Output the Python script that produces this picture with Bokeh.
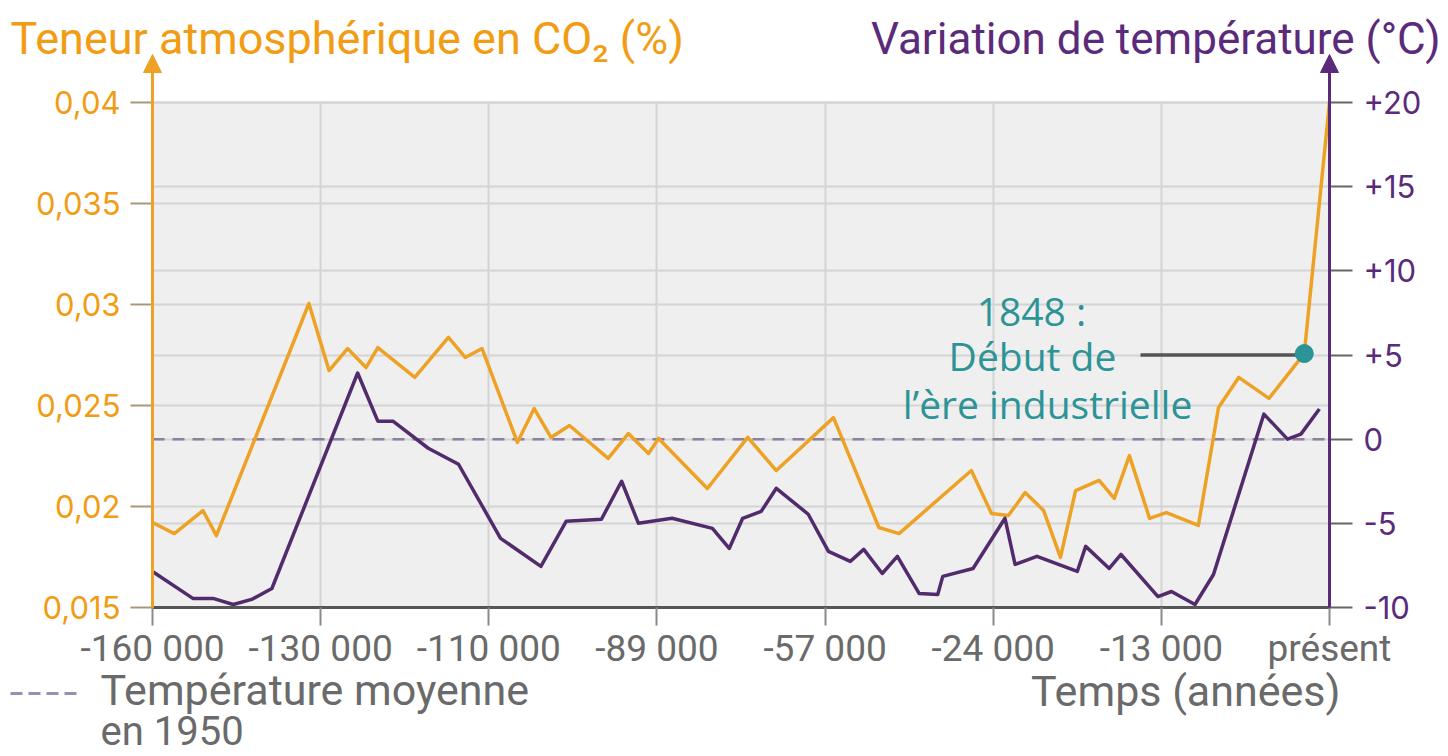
from bokeh.plotting import figure
from bokeh.models import (Range1d, LinearAxis, FixedTicker, CustomJSTickFormatter,
                          Grid, Label, Arrow, NormalHead, BoxAnnotation)
from bokeh.embed import file_html
from bokeh.resources import INLINE

# ---------------- data ----------------
x_tick_labels = ["-160 000", "-130 000", "-110 000", "-89 000",
                 "-57 000", "-24 000", "-13 000", "présent"]
x_ticks = [0, 1, 2, 3, 4, 5, 6, 7]

co2_ticks = [0.015, 0.02, 0.025, 0.03, 0.035, 0.04]
temp_ticks = [-10, -5, 0, 5, 10, 15, 20]

# CO2 (%) – x in tick-index units
co2_x = [0.0, 0.13, 0.30, 0.38, 0.93, 1.05, 1.16, 1.27, 1.34, 1.56, 1.76, 1.86, 1.96,
         2.17, 2.27, 2.37, 2.48, 2.71, 2.83, 2.95, 3.01, 3.30, 3.54, 3.71, 4.05,
         4.32, 4.44, 4.87, 4.99, 5.09, 5.19, 5.30, 5.40, 5.49, 5.63, 5.72, 5.81,
         5.93, 6.03, 6.22, 6.34, 6.46, 6.64, 6.85, 7.0]
co2_y = [0.01921, 0.01866, 0.0198, 0.01856, 0.03005, 0.02673, 0.02782, 0.02688, 0.02787,
         0.02639, 0.02837, 0.02738, 0.02782,
         0.02317, 0.02485, 0.02342, 0.02401, 0.02238, 0.02361, 0.02262, 0.02337,
         0.02089, 0.02342, 0.02178, 0.0244,
         0.01896, 0.01866, 0.02178, 0.01965, 0.01955, 0.02069, 0.0198, 0.01748,
         0.02079, 0.02129, 0.0204, 0.02252, 0.01941, 0.0197, 0.01906, 0.0249,
         0.02639, 0.02535, 0.02757, 0.04]

# Temperature variation (°C)
temp_x = [0.0, 0.24, 0.36, 0.48, 0.59, 0.71, 1.22, 1.34, 1.43, 1.64, 1.82, 2.07, 2.31,
          2.46, 2.67, 2.79, 2.89, 3.09, 3.33, 3.43, 3.51, 3.62, 3.71, 3.90, 4.02,
          4.15, 4.23, 4.34, 4.43, 4.56, 4.67, 4.70, 4.88, 5.07, 5.13, 5.26, 5.50,
          5.55, 5.69, 5.76, 5.98, 6.06, 6.20, 6.31, 6.61, 6.75, 6.83, 6.94]
temp_y = [-7.86, -9.46, -9.46, -9.82, -9.52, -8.87, 3.93, 1.07, 1.07, -0.54, -1.49,
          -5.89, -7.56, -4.88, -4.76, -2.5, -5.0, -4.70, -5.30, -6.49, -4.70, -4.29,
          -2.92, -4.46, -6.67, -7.26, -6.55, -7.98, -6.96, -9.17, -9.23, -8.15,
          -7.68, -4.70, -7.44, -6.96, -7.86, -6.37, -7.68, -6.85, -9.35, -9.05,
          -9.82, -8.04, 1.49, 0.0, 0.3, 1.79]

ref_temp_1950 = 0
industrial_x = 6.85
industrial_co2 = 0.02757
industrial_temp = 5

# ---------------- style ----------------
ORANGE_TXT = "#F29C14"
ORANGE_LINE = "#EDA225"
PURPLE_TXT = "#5B2A7A"
PURPLE_LINE = "#512B6C"
GREY_TXT = "#6A6A6A"
TEAL = "#2C9396"
GRID = "#D4D4D4"

W, H = 1448, 756
# plot area (image pixels)
FL, FR, FT, FB = 152, 1329, 102, 607

def fx(px):
    return (px - FL) / (FR - FL) * (x_ticks[-1] - x_ticks[0]) + x_ticks[0]

def fy(py):
    return co2_ticks[0] + (FB - py) / (FB - FT) * (co2_ticks[-1] - co2_ticks[0])

def ty(py):
    return temp_ticks[0] + (FB - py) / (FB - FT) * (temp_ticks[-1] - temp_ticks[0])

p = figure(width=W, height=H, x_range=Range1d(fx(0), fx(W)), y_range=Range1d(fy(H), fy(0)),
           x_axis_type=None, y_axis_type=None, output_backend="svg",
           toolbar_location=None, min_border=0,
           background_fill_color="white", border_fill_color="white",
           outline_line_color=None)
p.extra_y_ranges = {"temp": Range1d(ty(H), ty(0))}

# plot area background
p.add_layout(BoxAnnotation(left=x_ticks[0], right=x_ticks[-1], bottom=co2_ticks[0],
                           top=co2_ticks[-1], fill_color="#EFEFEF", fill_alpha=1,
                           line_color=None, level="underlay"))

# grids
p.add_layout(Grid(dimension=0, ticker=FixedTicker(ticks=x_ticks[1:-1]),
                  cross_bounds=(co2_ticks[0], co2_ticks[-1]),
                  grid_line_color=GRID, grid_line_width=2))
p.add_layout(Grid(dimension=1, ticker=FixedTicker(ticks=co2_ticks),
                  cross_bounds=(x_ticks[0], x_ticks[-1]),
                  grid_line_color=GRID, grid_line_width=2))
p.add_layout(Grid(dimension=1, ticker=FixedTicker(ticks=temp_ticks), y_range_name="temp",
                  cross_bounds=(x_ticks[0], x_ticks[-1]),
                  grid_line_color=GRID, grid_line_width=2))

# axes
yl = LinearAxis(fixed_location=x_ticks[0], bounds=(co2_ticks[0], co2_ticks[-1]),
                ticker=FixedTicker(ticks=co2_ticks),
                formatter=CustomJSTickFormatter(
                    code="return tick.toFixed(3).replace(/0+$/, '').replace('.', ',');"),
                axis_line_color=ORANGE_LINE, axis_line_width=3,
                major_tick_out=22, major_tick_in=0, major_tick_line_color="#A8977A",
                major_tick_line_width=2, minor_tick_line_color=None,
                major_label_standoff=10, major_label_text_color=ORANGE_TXT,
                major_label_text_font="Inter", major_label_text_font_size="31px")
p.add_layout(yl, "left")

yr = LinearAxis(fixed_location=x_ticks[-1], y_range_name="temp",
                bounds=(temp_ticks[0], temp_ticks[-1]),
                ticker=FixedTicker(ticks=temp_ticks),
                formatter=CustomJSTickFormatter(
                    code="return tick > 0 ? '+' + tick : '' + tick;"),
                axis_line_color=PURPLE_TXT, axis_line_width=3,
                major_tick_out=23, major_tick_in=0, major_tick_line_color="#666666",
                major_tick_line_width=2, minor_tick_line_color=None,
                major_label_standoff=11, major_label_text_color=PURPLE_TXT,
                major_label_text_font="Inter", major_label_text_font_size="31px")
p.add_layout(yr, "right")

xb = LinearAxis(fixed_location=co2_ticks[0], bounds=(x_ticks[0], x_ticks[-1]),
                ticker=FixedTicker(ticks=x_ticks),
                major_label_overrides={t: l for t, l in zip(x_ticks, x_tick_labels)},
                axis_line_color="#555555", axis_line_width=3,
                major_tick_out=18, major_tick_in=0, major_tick_line_color="#8A8A8A",
                major_tick_line_width=2, minor_tick_line_color=None,
                major_label_standoff=1, major_label_text_color=GREY_TXT,
                major_label_text_font="Roboto", major_label_text_font_size="37px")
p.add_layout(xb, "below")

# reference temperature (1950)
p.line([x_ticks[0], x_ticks[-1]], [ref_temp_1950, ref_temp_1950], y_range_name="temp",
       line_color="#8C7FA0", line_width=2.5, line_dash="12 8")

# data lines
p.line(co2_x, co2_y, line_color=ORANGE_LINE, line_width=3.5, line_join="round")
p.line(temp_x, temp_y, y_range_name="temp", line_color=PURPLE_LINE, line_width=3.5,
       line_join="round")

# industrial era marker
p.line([fx(1140), industrial_x], [industrial_temp, industrial_temp], y_range_name="temp",
       line_color="#555555", line_width=3.5)
p.scatter([industrial_x], [industrial_co2], size=18, fill_color=TEAL, line_color=TEAL)

# axis arrows
p.add_layout(Arrow(end=NormalHead(size=18, fill_color=ORANGE_LINE, line_color=ORANGE_LINE),
                   x_start=x_ticks[0], y_start=co2_ticks[0], x_end=x_ticks[0], y_end=fy(54),
                   line_color=ORANGE_LINE, line_width=3))
p.add_layout(Arrow(end=NormalHead(size=18, fill_color=PURPLE_TXT, line_color=PURPLE_TXT),
                   x_start=x_ticks[-1], y_start=co2_ticks[0], x_end=x_ticks[-1], y_end=fy(54),
                   line_color=PURPLE_TXT, line_width=3))

def lab(px, py, text, color, size, font, align="left"):
    p.add_layout(Label(x=fx(px), y=fy(py), text=text, text_color=color,
                       text_font=font, text_font_size=size, text_align=align,
                       text_baseline="middle"))

lab(10, 38, "Teneur atmosphérique en CO₂ (%)", ORANGE_TXT, "45px", "Roboto")
lab(1440, 38, "Variation de température (°C)", PURPLE_TXT, "44px", "Roboto", "right")
lab(1340, 690, "Temps (années)", GREY_TXT, "43px", "Roboto", "right")
lab(100, 689, "Température moyenne", GREY_TXT, "43px", "Roboto")
lab(100, 731, "en 1950", GREY_TXT, "40px", "Roboto")
p.line([fx(10), fx(80)], [fy(693), fy(693)], line_color="#9A8FB0", line_width=3,
       line_dash="12 6")

lab(1031, 310, "1848 :", TEAL, "39px", "Open Sans", "center")
lab(1032, 355, "Début de", TEAL, "39px", "Open Sans", "center")
lab(1047, 403, "l’ère industrielle", TEAL, "39px", "Open Sans", "center")

open("out.html", "w").write(file_html(p, INLINE))
